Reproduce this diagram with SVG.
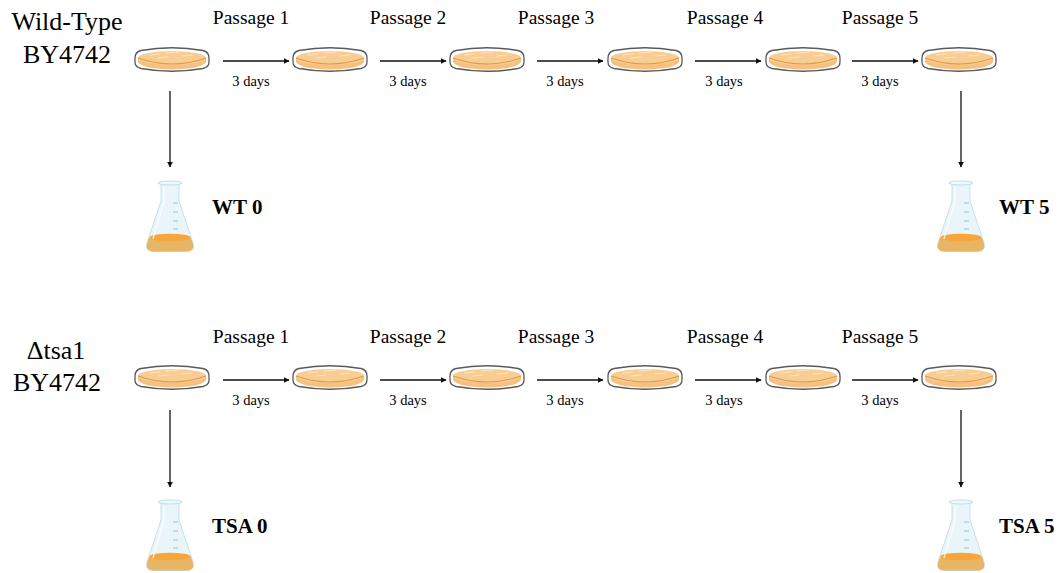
<svg xmlns="http://www.w3.org/2000/svg" width="1059" height="573" viewBox="0 0 1059 573">
  <style>
    .strain { font-family: "Liberation Serif", "Times New Roman", serif; font-size: 26px; fill: #000; text-anchor: middle; }
    .passage { font-family: "Liberation Serif", "Times New Roman", serif; font-size: 19.5px; fill: #000; text-anchor: middle; }
    .days { font-family: "Liberation Serif", "Times New Roman", serif; font-size: 14.5px; fill: #000; text-anchor: middle; }
    .sample { font-family: "Liberation Serif", "Times New Roman", serif; font-size: 21px; font-weight: bold; fill: #000; }
    .arrow { stroke: #111; stroke-width: 1.3; fill: none; marker-end: url(#head); }
  </style>
  <defs>
    <marker id="head" viewBox="0 0 10 10" refX="9" refY="5" markerWidth="6" markerHeight="6" markerUnits="userSpaceOnUse" orient="auto">
      <path d="M0,0 L10,5 L0,10 Z" fill="#111"/>
    </marker>
    <!-- petri dish with agar, centred on 0,0 -->
    <g id="dish">
      <path d="M-37,-2 Q-37,-8 -31,-9.5 Q0,-15 31,-9.5 Q37,-8 37,-2 L37,2 Q37,7 31,8.5 Q0,14 -31,8.5 Q-37,7 -37,2 Z" fill="#fff" stroke="#5a5a5a" stroke-width="1.3"/>
      <path d="M-34,-2 L-34,2 Q-30,9 0,9.5 Q30,9 34,2 L34,-2 Z" fill="#f6c180"/>
      <ellipse cx="0" cy="-2" rx="34" ry="7" fill="#f9cd92"/>
      <path d="M-34,-2 Q0,10 34,-2" fill="none" stroke="#dc9a48" stroke-width="1.1"/>
      <path d="M-22,-5 L-12,-6 M-6,-7 L6,-8 M10,-4 L20,-5 M-14,-2 L-4,-3" stroke="#fde6c4" stroke-width="1" stroke-linecap="round"/>
    </g>
    <!-- conical flask with culture, top-left at 0,0 -->
    <g id="flask">
      <path d="M16,2 L16,20 L2,62 Q0,70 8,70.5 L42,70.5 Q50,70 48,62 L34,20 L34,2 Z" fill="#eaf5f9" stroke="#c3e2ec" stroke-width="1"/>
      <path d="M4,57 Q25,52 46,57 L48,63 Q50,70 42,70.5 L8,70.5 Q0,70 2,63 Z" fill="#e8b565"/>
      <ellipse cx="25" cy="56.5" rx="20.5" ry="3.8" fill="#f6a63a"/>
      <ellipse cx="25" cy="2" rx="12" ry="2" fill="#f2f9fb" stroke="#bcdfe9" stroke-width="1"/>
      <path d="M28,22 L33,22 M28,31 L33,31 M28,40 L33,40 M28,48 L33,48" stroke="#8fc3d5" stroke-width="1"/>
      <path d="M19,6 L19,20 L8,58" fill="none" stroke="#ffffff" stroke-width="1.5" opacity="0.7"/>
    </g>
  </defs>

  <!-- wild-type series -->
  <g id="label-wt">
    <text class="strain" x="67" y="30">Wild-Type</text>
    <text class="strain" x="67" y="63">BY4742</text>
  </g>
  <g id="passage-labels-wt">
    <text class="passage" x="251" y="24">Passage 1</text>
    <text class="passage" x="408" y="24">Passage 2</text>
    <text class="passage" x="556" y="24">Passage 3</text>
    <text class="passage" x="725" y="24">Passage 4</text>
    <text class="passage" x="880" y="24">Passage 5</text>
  </g>
  <g id="dishes-wt">
    <use href="#dish" x="172" y="60"/>
    <use href="#dish" x="330" y="60"/>
    <use href="#dish" x="487" y="60"/>
    <use href="#dish" x="645" y="60"/>
    <use href="#dish" x="803" y="60"/>
    <use href="#dish" x="959" y="60"/>
  </g>
  <g id="flask-wt0">
    <use href="#flask" x="145" y="181"/>
    <text class="sample" x="212" y="214">WT 0</text>
  </g>
  <g id="flask-wt5">
    <use href="#flask" x="936" y="181"/>
    <text class="sample" x="999" y="214">WT 5</text>
  </g>

  <!-- tsa1 deletion series -->
  <g id="label-tsa">
    <text class="strain" x="56" y="359">Δtsa1</text>
    <text class="strain" x="57" y="391">BY4742</text>
  </g>
  <g id="passage-labels-tsa">
    <text class="passage" x="251" y="343">Passage 1</text>
    <text class="passage" x="408" y="343">Passage 2</text>
    <text class="passage" x="556" y="343">Passage 3</text>
    <text class="passage" x="725" y="343">Passage 4</text>
    <text class="passage" x="880" y="343">Passage 5</text>
  </g>
  <g id="dishes-tsa">
    <use href="#dish" x="172" y="378"/>
    <use href="#dish" x="330" y="378"/>
    <use href="#dish" x="487" y="378"/>
    <use href="#dish" x="645" y="378"/>
    <use href="#dish" x="803" y="378"/>
    <use href="#dish" x="959" y="378"/>
  </g>
  <g id="flask-tsa0">
    <use href="#flask" x="145" y="500"/>
    <text class="sample" x="212" y="533">TSA 0</text>
  </g>
  <g id="flask-tsa5">
    <use href="#flask" x="936" y="500"/>
    <text class="sample" x="999" y="533">TSA 5</text>
  </g>

  <!-- connectors -->
  <g id="connectors">
    <line class="arrow" x1="223" y1="61" x2="289" y2="61"/>
    <line class="arrow" x1="380" y1="61" x2="446" y2="61"/>
    <line class="arrow" x1="537" y1="61" x2="603" y2="61"/>
    <line class="arrow" x1="695" y1="61" x2="761" y2="61"/>
    <line class="arrow" x1="852" y1="61" x2="918" y2="61"/>
    <line class="arrow" x1="170" y1="91" x2="170" y2="167"/>
    <line class="arrow" x1="961" y1="91" x2="961" y2="167"/>

    <line class="arrow" x1="223" y1="380" x2="289" y2="380"/>
    <line class="arrow" x1="380" y1="380" x2="446" y2="380"/>
    <line class="arrow" x1="537" y1="380" x2="603" y2="380"/>
    <line class="arrow" x1="695" y1="380" x2="761" y2="380"/>
    <line class="arrow" x1="852" y1="380" x2="918" y2="380"/>
    <line class="arrow" x1="170" y1="410" x2="170" y2="487"/>
    <line class="arrow" x1="961" y1="410" x2="961" y2="487"/>
  </g>
  <g id="connector-labels">
    <text class="days" x="251" y="86">3 days</text>
    <text class="days" x="408" y="86">3 days</text>
    <text class="days" x="565" y="86">3 days</text>
    <text class="days" x="724" y="86">3 days</text>
    <text class="days" x="880" y="86">3 days</text>
    <text class="days" x="251" y="405">3 days</text>
    <text class="days" x="408" y="405">3 days</text>
    <text class="days" x="565" y="405">3 days</text>
    <text class="days" x="724" y="405">3 days</text>
    <text class="days" x="880" y="405">3 days</text>
  </g>
</svg>
